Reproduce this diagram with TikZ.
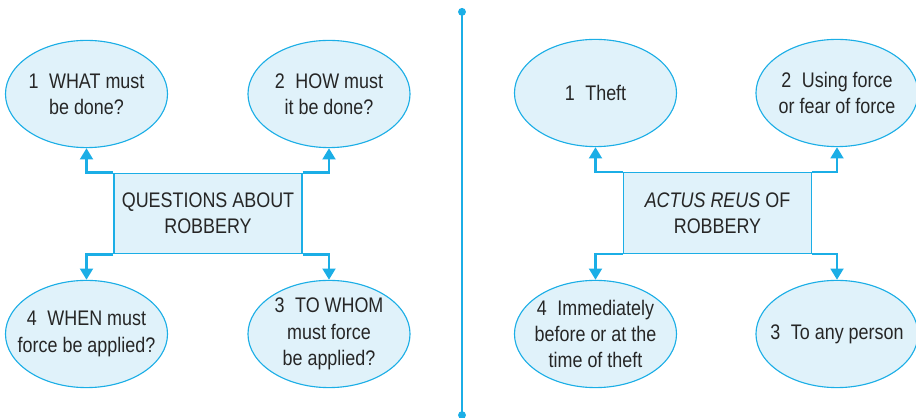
\documentclass[tikz,border=0pt]{standalone}
\usepackage{fontspec}
\setmainfont{Liberation Sans}[FakeStretch=0.85]
\usetikzlibrary{arrows.meta, positioning, shapes}

\definecolor{linecyan}{HTML}{1BAEE6}
\definecolor{boxfill}{HTML}{E0F2FA}
\definecolor{textgrey}{HTML}{262626}

\begin{document}
\begin{tikzpicture}[
    x=0.025cm, y=-0.025cm,
    bubble/.style={ellipse, draw=linecyan, fill=boxfill, line width=0.8pt, minimum width=4.05cm, minimum height=2.68cm, inner xsep=-25pt, inner ysep=-15pt, align=center, text=textgrey, font=\fontsize{15}{18.7}\selectfont},
    topic/.style={rectangle, draw=linecyan, fill=boxfill, line width=0.8pt, minimum width=4.7cm, minimum height=2.02cm, align=center, text=textgrey, font=\fontsize{15}{18.7}\selectfont},
    link/.style={draw=linecyan, line width=2pt, -{Triangle[length=8pt, width=9pt]}}
    ]
    \useasboundingbox (0,0) rectangle (916,418);

    % Questions about robbery
    \node[topic] (qbox) at (208,213.5) {QUESTIONS ABOUT\\ROBBERY};
    \node[bubble] (q1) at (86.5,94) {1\enspace WHAT must\\be done?};
    \node[bubble] (q2) at (329,94) {2\enspace HOW must\\it be done?};
    \node[bubble] (q3) at (329,334) {3\enspace TO WHOM\\must force\\be applied?};
    \node[bubble] (q4) at (86.5,334) {4\enspace WHEN must\\force be applied?};

    \draw[link] (qbox.north west) -| (q1.south);
    \draw[link] (qbox.north east) -| (q2.south);
    \draw[link] (qbox.south west) -| (q4.north);
    \draw[link] (qbox.south east) -| (q3.north);

    % Divider
    \coordinate (divtop) at (462,8);
    \coordinate (divbot) at (462,419);
    \draw[linecyan, line width=1.4pt, {Circle[length=5.5pt]}-{Circle[length=5.5pt]}] (divtop) -- (divbot);

    % Actus reus of robbery
    \node[topic] (abox) at (717.5,213) {\textit{ACTUS REUS} OF\\ROBBERY};
    \node[bubble] (a1) at (595.5,93) {1\enspace Theft};
    \node[bubble] (a2) at (837,93) {2\enspace Using force\\or fear of force};
    \node[bubble] (a3) at (837,334) {3\enspace To any person};
    \node[bubble] (a4) at (595.5,334) {4\enspace Immediately\\before or at the\\time of theft};

    \draw[link] (abox.north west) -| (a1.south);
    \draw[link] (abox.north east) -| (a2.south);
    \draw[link] (abox.south west) -| (a4.north);
    \draw[link] (abox.south east) -| (a3.north);
\end{tikzpicture}
\end{document}
